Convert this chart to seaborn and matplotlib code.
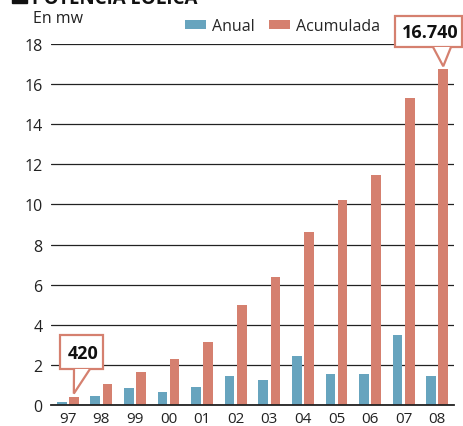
import pandas as pd
import numpy as np
import matplotlib.pyplot as plt
import seaborn as sns
from matplotlib.patches import Rectangle, Polygon
from matplotlib.transforms import IdentityTransform

years = ["97", "98", "99", "00", "01", "02", "03", "04", "05", "06", "07", "08"]
anual = [0.15, 0.45, 0.85, 0.65, 0.9, 1.45, 1.25, 2.45, 1.57, 1.57, 3.5, 1.45]
acumulada = [0.42, 1.05, 1.65, 2.3, 3.15, 5.0, 6.4, 8.63, 10.2, 11.45, 15.3, 16.74]
series = ["Anual", "Acumulada"]
colors = ["#67a4be", "#d5806f"]
yticks = [0, 2, 4, 6, 8, 10, 12, 14, 16, 18]

df = pd.DataFrame({
    "year": years * 2,
    "value": anual + acumulada,
    "serie": [series[0]] * len(years) + [series[1]] * len(years),
})

sns.set_style("white")
plt.rcParams["font.family"] = ["Open Sans", "DejaVu Sans"]

W, H = 464, 427
fig = plt.figure(figsize=(W / 100, H / 100), dpi=100)
ax = fig.add_axes([51 / W, 1 - 406 / H, 403 / W, 361 / H])

sns.barplot(data=df, x="year", y="value", hue="serie", order=years,
            hue_order=series, palette=colors, width=0.72, gap=0.2,
            saturation=1, linewidth=0, ax=ax)

ax.set_xlim(-0.5, len(years) - 0.5)
ax.set_ylim(0, 18)
ax.set_yticks(yticks)
ax.set_xlabel("")
ax.set_ylabel("")

# gridlines and axes
ax.yaxis.grid(True, color="#222222", lw=0.9)
ax.set_axisbelow(True)
for s in ["left", "right", "top"]:
    ax.spines[s].set_visible(False)
ax.spines["bottom"].set_color("#222222")
ax.spines["bottom"].set_linewidth(1.3)
ax.tick_params(axis="y", length=0, pad=6, labelsize=11.5, colors="#222222")
ax.tick_params(axis="x", which="major", length=0, pad=4.5, labelsize=11, colors="#222222")
ax.set_xticks(np.arange(-0.5, len(years)), minor=True)
ax.tick_params(axis="x", which="minor", length=7, width=1.1, color="#444444", direction="out")

# legend
handles, labels = ax.get_legend_handles_labels()
ax.legend(handles, labels, ncol=2, frameon=False, loc="center left",
          bbox_to_anchor=(185 / W, 1 - 27 / H), bbox_transform=fig.transFigure,
          borderpad=0, borderaxespad=0, handlelength=1.3, handleheight=0.55,
          handletextpad=0.4, columnspacing=0.9, fontsize=11.5)

# callouts: box (left, right, top, bottom) and tail base (x0, x1), in pixels from top-left
red = colors[1]
callouts = [
    (11, "16.740", (395, 462, 17, 48), (433, 451)),
    (0, "420", (60, 103, 336, 370), (74, 90)),
]
fig.canvas.draw()
for i, txt, (l, r, t, b), (b0, b1) in callouts:
    tip = ax.transData.transform((i + 0.18, acumulada[i]))
    tip = (tip[0], tip[1] + 3)
    fig.patches.append(Rectangle((l, H - b), r - l, b - t, transform=IdentityTransform(),
                                 fc="white", ec=red, lw=1.6, zorder=5))
    fig.patches.append(Polygon([(b0, H - b), tip, (b1, H - b)], closed=False,
                               transform=IdentityTransform(), fc="white", ec=red,
                               lw=1.6, zorder=6))
    fig.text(((l + r) / 2 + 2) / W, 1 - ((t + b) / 2 + 1) / H, txt, ha="center", va="center",
             fontsize=13, fontweight="bold", color="#111111", zorder=7)

# header
fig.text(33 / W, 1 - 23 / H, "En mw", fontsize=11.5, color="#222222", va="baseline")
fig.text(32 / W, 1 - 4 / H, "POTENCIA EÓLICA", fontsize=13.5, fontweight="bold",
         color="#111111", va="baseline")
fig.patches.append(Rectangle((12 / W, 1 - 4 / H), 15 / W, 20 / H,
                             transform=fig.transFigure, color="#111111"))

fig.savefig("out.png", dpi=100)
